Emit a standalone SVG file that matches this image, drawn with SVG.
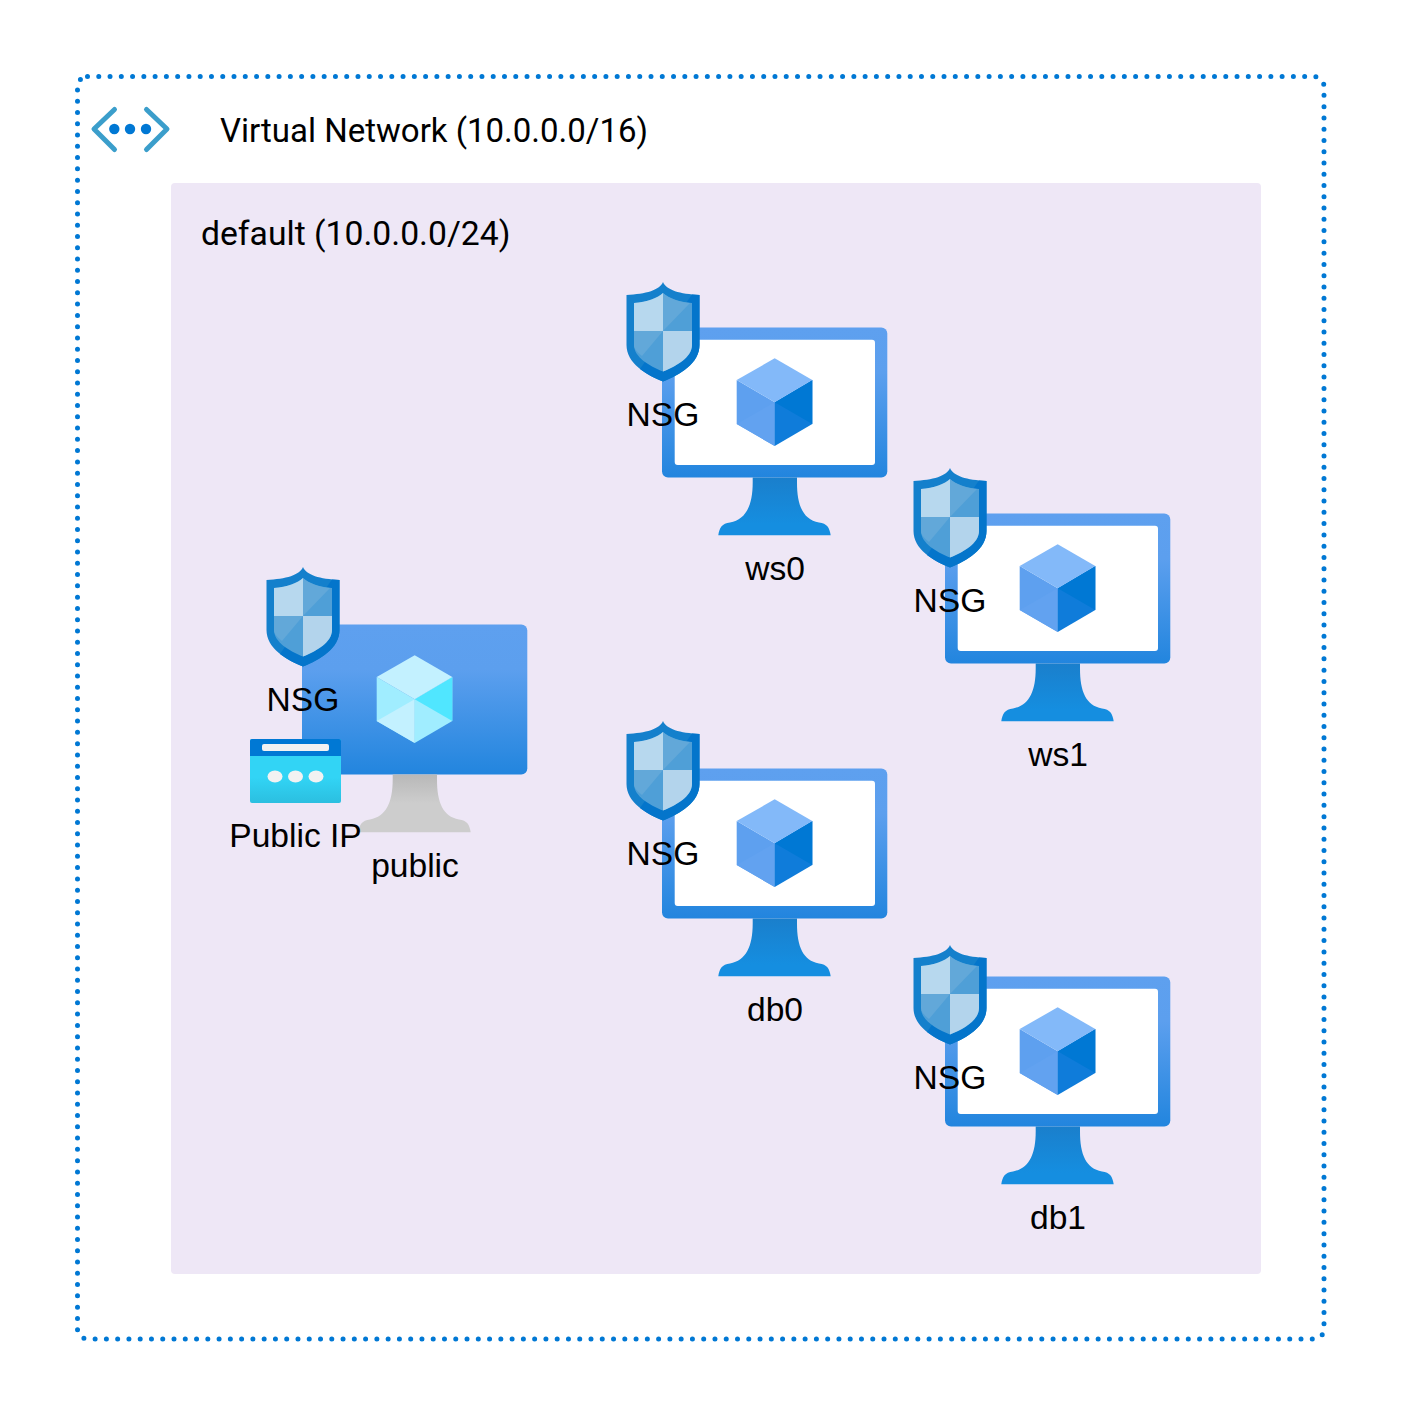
<svg xmlns="http://www.w3.org/2000/svg" width="1403" height="1418" viewBox="0 0 1403 1418">
<style>
text{font-family:"Liberation Sans",Arial,sans-serif;font-size:33.6px;fill:#000;text-anchor:middle}
.r{font-family:Roboto,"Liberation Sans",sans-serif;text-anchor:start;fill:#000}
.chev{fill:none;stroke:#3b9ecb;stroke-width:5;stroke-linecap:round;stroke-linejoin:round}
.dot{fill:#0078d4}
.ipd{fill:#f2f2f2}
</style>
<defs>
<linearGradient id="fr" x1="0" y1="0" x2="0" y2="1"><stop offset="0" stop-color="#5ea0ef"/><stop offset=".3" stop-color="#5c9fee"/><stop offset="1" stop-color="#2285de"/></linearGradient>
<linearGradient id="st" x1="0" y1="0" x2="0" y2="1"><stop offset="0" stop-color="#1a7fcc"/><stop offset=".8" stop-color="#158ee0"/></linearGradient>
<linearGradient id="gs" x1="0" y1="0" x2="0" y2="1"><stop offset="0" stop-color="#b8b8b8"/><stop offset=".5" stop-color="#cdcdcd"/></linearGradient>
<linearGradient id="ip" x1="0" y1="0" x2="0" y2="1"><stop offset="0" stop-color="#32d4f5"/><stop offset=".6" stop-color="#32d4f5"/><stop offset="1" stop-color="#2bbfe0"/></linearGradient>
<path id="standp" d="M90.700 150V155C90.700 178 84 192 68 195C60 196 57.500 200 56.300 207.800H168.700C167.500 200 165 196 157 195C141 192 135 178 135 155V150Z"/>
<g id="cube">
<path d="M74.700 52.500L112.700 74.800V118.500L74.700 96.500Z" fill="#5ea0ef"/>
<path d="M74.700 96.500L112.700 74.800V118.500Z" fill="#62a2f0"/>
<path d="M150.300 52.500L112.700 74.800V118.500L150.300 96.500Z" fill="#0f7cda"/>
<path d="M150.300 52.500L112.700 74.800 150.300 96.500Z" fill="#0078d4"/>
<path d="M112.700 30.800L150.300 52.500 112.700 74.800 74.700 52.500Z" fill="#83b9f9"/>
</g>
<g id="vm">
<rect width="225.300" height="150" rx="6" fill="url(#fr)"/>
<rect x="12.700" y="12.200" width="200.300" height="125.300" rx="3" fill="#fff"/>
<use href="#standp" fill="url(#st)"/>
<use href="#cube"/>
</g>
<g id="shield">
<path d="M0 -1C3 7 17 11 36.500 12V62C36.500 80 17 92 0 98.500C-17 92 -36.500 80 -36.500 62V12C-17 11 -3 7 0 -1Z" fill="#1480cc"/>
<path d="M36.500 12V62C36.500 80 17 92 0 98.500C-8 95.500 -16 91.500 -23 86L29 11.500Z" fill="#0475cb"/>
<path d="M0 10C5 15 16 19 29 20V62C29 74 14 83 0 88.500C-14 83 -29 74 -29 62V20C-16 19 -5 15 0 10Z" fill="#4f9fd7"/>
<path d="M-29 48H0L-21 73C-26 69 -29 66 -29 62Z" fill="#62a8d9"/>
<path d="M0 10C5 15 16 19 27 20L0 48Z" fill="#62a8d9"/>
<path d="M0 10V48H-29V20C-16 19 -5 15 0 10Z" fill="#b7d8ee"/>
<path d="M0 48H29V62C29 74 14 83 0 88.500Z" fill="#b3d4ec"/>
</g>
</defs>
<rect width="1403" height="1418" fill="#fff"/>
<rect id="vnet-box" x="77.500" y="76.500" width="1246.500" height="1262.500" rx="10" fill="none" stroke="#0078d4" stroke-width="5" stroke-linecap="round" stroke-dasharray="0 11.270"/>
<g id="vnet-icon">
<path class="chev" d="M114.500 109.500L94 129L114.500 149.500"/>
<path class="chev" d="M146.500 109.500L167 129L146.500 149.500"/>
<circle class="dot" cx="114.300" cy="129" r="5.200"/><circle class="dot" cx="130" cy="129" r="5.200"/><circle class="dot" cx="146" cy="129" r="5.200"/>
</g>
<text id="vnet-label" class="r" x="220" y="142" style="font-size:33px">Virtual Network (10.0.0.0/16)</text>
<g id="subnet">
<rect x="171" y="183" width="1090" height="1091" rx="4" fill="#eee7f6"/>
<text class="r" x="201" y="245" style="font-size:33.7px">default (10.0.0.0/24)</text>
</g>
<g id="public">
<rect x="302" y="624.500" width="225.300" height="150" rx="6" fill="url(#fr)"/>
<g transform="translate(302,624.500)"><use href="#standp" fill="url(#gs)"/>
<path d="M74.700 52.500L112.700 74.800V118.500L74.700 96.500Z" fill="#a0edff"/><path d="M74.700 96.500L112.700 74.800V118.500Z" fill="#c3f1ff"/><path d="M150.300 52.500L112.700 74.800V118.500L150.300 96.500Z" fill="#a0edff"/><path d="M150.300 52.500L112.700 74.800 150.300 96.500Z" fill="#50e6ff"/><path d="M112.700 30.800L150.300 52.500 112.700 74.800 74.700 52.500Z" fill="#c3f1ff"/></g>
<use href="#shield" x="303" y="568"/>
<text x="303" y="711">NSG</text>
<rect x="250" y="739" width="91" height="64" rx="2" fill="url(#ip)"/>
<path d="M250 756V741a2 2 0 0 1 2-2h87a2 2 0 0 1 2 2v15Z" fill="#0078d4"/>
<rect class="ipd" x="262" y="744" width="67" height="7" rx="2"/>
<ellipse class="ipd" cx="275" cy="776.500" rx="7.500" ry="6"/><ellipse class="ipd" cx="295.500" cy="776.500" rx="7.500" ry="6"/><ellipse class="ipd" cx="316" cy="776.500" rx="7.500" ry="6"/>
<text x="295.500" y="847">Public IP</text>
<text x="415" y="877">public</text>
</g>
<g id="ws0"><use href="#vm" x="662" y="327.500"/><use href="#shield" x="663" y="283"/><text x="663" y="426">NSG</text><text x="775" y="580">ws0</text></g>
<g id="ws1"><use href="#vm" x="945" y="513.500"/><use href="#shield" x="950" y="469"/><text x="950" y="612">NSG</text><text x="1058" y="766">ws1</text></g>
<g id="db0"><use href="#vm" x="662" y="768.500"/><use href="#shield" x="663" y="722"/><text x="663" y="865">NSG</text><text x="775" y="1021">db0</text></g>
<g id="db1"><use href="#vm" x="945" y="976.500"/><use href="#shield" x="950" y="946"/><text x="950" y="1089">NSG</text><text x="1058" y="1229">db1</text></g>
<g id="connectors"></g>
</svg>
